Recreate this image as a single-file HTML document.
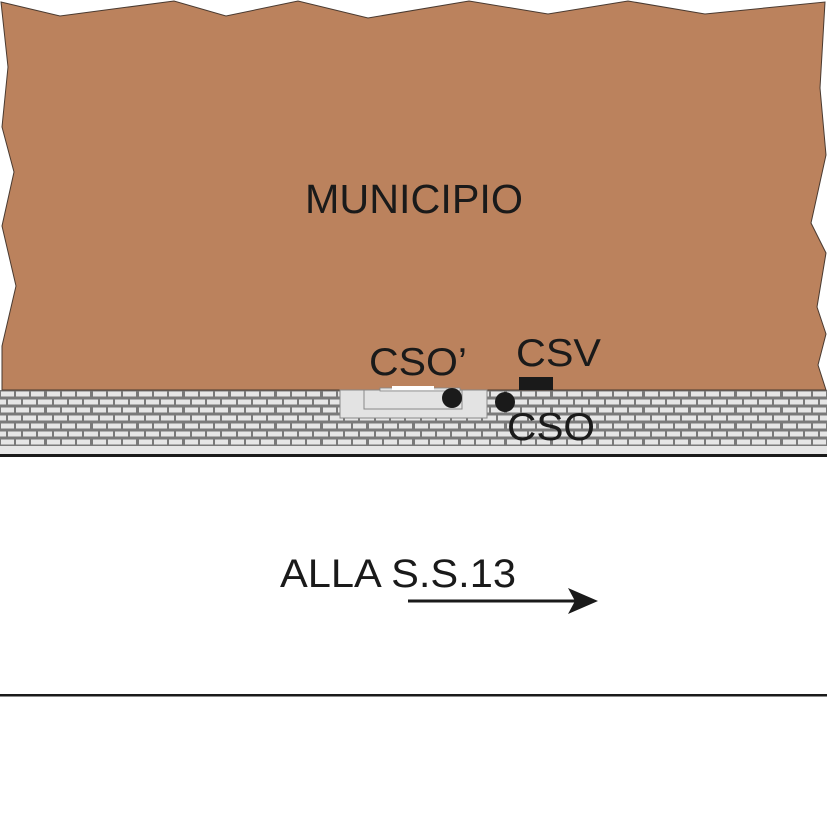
<!DOCTYPE html>
<html><head><style>
html,body{margin:0;padding:0;background:#fff;}
svg{display:block;}
text{font-family:"Liberation Sans",Arial,sans-serif;fill:#1a1a1a;}
</style></head><body>
<svg width="827" height="826" viewBox="0 0 827 826" xmlns="http://www.w3.org/2000/svg">
<defs>
<pattern id="brick" x="0" y="390" width="46" height="16" patternUnits="userSpaceOnUse">
<rect width="46" height="16" fill="#7a7a7a"/>
<rect x="1" y="1.5" width="13" height="5" fill="#e6e6e6"/>
<rect x="16" y="1.5" width="13" height="5" fill="#e6e6e6"/>
<rect x="31" y="1.5" width="13" height="5" fill="#e6e6e6"/>
<rect x="-7" y="9.5" width="13" height="5" fill="#e6e6e6"/>
<rect x="8" y="9.5" width="13" height="5" fill="#e6e6e6"/>
<rect x="23" y="9.5" width="13" height="5" fill="#e6e6e6"/>
<rect x="38" y="9.5" width="13" height="5" fill="#e6e6e6"/>
</pattern>
</defs>
<rect x="0" y="390" width="827" height="58" fill="url(#brick)"/>
<rect x="0" y="446" width="827" height="8" fill="#e6e6e6"/>
<rect x="0" y="454" width="827" height="3" fill="#1a1a1a"/>
<polygon points="1,2 60,16 174,1 226,16 298,1 368,18 469,1 548,14 628,1 705,14 825,2 820,88 826,155 811,223 826,253 817,307 826,334 818,365 826,390 2,390 2,346 16,286 2,226 14,172 2,127 8,67" fill="#bb825d" stroke="#4a3a30" stroke-width="1"/>
<rect x="340" y="390" width="147" height="28" fill="#e3e3e3" stroke="#888" stroke-width="1"/>
<rect x="364" y="390" width="98" height="19" fill="#e3e3e3" stroke="#888" stroke-width="1"/>
<rect x="380" y="388" width="80" height="3" fill="#e3e3e3" stroke="#888" stroke-width="0.8"/>
<rect x="392" y="386" width="42" height="4" fill="#fff"/>
<rect x="519" y="377" width="34" height="13" fill="#1a1a1a"/>
<circle cx="452" cy="398" r="10" fill="#1a1a1a"/>
<circle cx="505" cy="402" r="10" fill="#1a1a1a"/>
<text x="305" y="213" font-size="41" textLength="218" lengthAdjust="spacingAndGlyphs">MUNICIPIO</text>
<text x="369" y="375" font-size="39" textLength="98" lengthAdjust="spacingAndGlyphs">CSO’</text>
<text x="516" y="366" font-size="39" textLength="85" lengthAdjust="spacingAndGlyphs">CSV</text>
<text x="507" y="440" font-size="39" textLength="88" lengthAdjust="spacingAndGlyphs">CSO</text>
<text x="280" y="587" font-size="40" textLength="236" lengthAdjust="spacingAndGlyphs">ALLA S.S.13</text>
<line x1="408" y1="601" x2="575" y2="601" stroke="#1a1a1a" stroke-width="3"/>
<polygon points="568,588 598,601 568,614 575,601" fill="#1a1a1a"/>
<rect x="0" y="694" width="827" height="2.5" fill="#1a1a1a"/>
</svg>
</body></html>
